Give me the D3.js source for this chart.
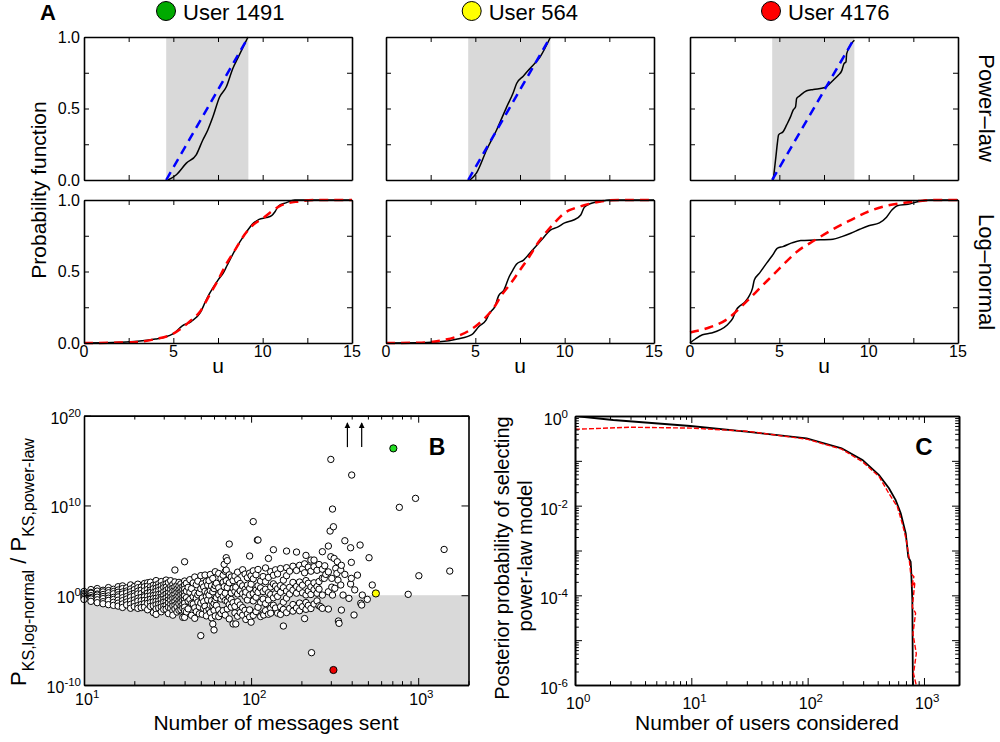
<!DOCTYPE html>
<html><head><meta charset="utf-8">
<script src="https://cdn.jsdelivr.net/npm/d3@7"></script>
<style>body{margin:0;background:#fff}svg text{font-family:"Liberation Sans",Arial,Helvetica,sans-serif;fill:#000}</style>
</head><body><svg id="c" width="1000" height="742"></svg>
<script>
// ---------------- DATA ----------------
const userNames = ["User 1491","User 564","User 4176"];
const userColors = ["#00aa00","#ffff00","#ff0000"];
const shadeStart = [4.6,4.6,4.6];
const shadeEnd = [9.2,9.2,9.2];
const uTicks = [0,5,10,15];
const pTicks = [0,0.5,1];
const rowLabels = ["Power\u2013law","Log\u2013normal"];

// power-law row: empirical (black) and fitted (blue dashed), [u, P]
const plEmp1491 = [[4.7,0],[5.17,0.037],[5.73,0.118],[6.28,0.176],[6.65,0.28],[6.93,0.35],[7.21,0.44],[7.59,0.58],[7.96,0.65],[8.33,0.78],[8.6,0.85],[9.18,1.0]];
const plEmp564 = [[4.7,0],[5.07,0.05],[5.63,0.21],[6.19,0.35],[6.75,0.51],[7.12,0.61],[7.31,0.675],[7.68,0.726],[8.06,0.78],[8.62,0.86],[9.21,1.0]];
const plEmp4176 = [[4.66,0],[4.81,0.165],[4.89,0.258],[4.96,0.316],[5.22,0.339],[5.41,0.385],[5.63,0.443],[5.78,0.49],[5.91,0.513],[5.97,0.571],[6.12,0.587],[6.53,0.624],[6.9,0.633],[7.55,0.647],[7.83,0.675],[8.02,0.698],[8.3,0.733],[8.49,0.763],[8.62,0.814],[8.73,0.826],[8.77,0.884],[9.2,0.977]];
const plFit1491 = [[4.6,0],[9.2,1]];
const plFit564 = [[4.6,0],[9.2,1]];
const plFit4176 = [[4.6,0],[9.2,0.99]];

// log-normal row: empirical (black) and fitted (red dashed), [u, P]
const lnEmp1491 = [[0,0],[2,0.005],[3,0.012],[4,0.028],[4.5,0.04],[5,0.065],[5.5,0.12],[6,0.15],[6.5,0.21],[6.8,0.29],[7,0.34],[7.5,0.44],[7.8,0.49],[8,0.54],[8.5,0.66],[9,0.76],[9.5,0.84],[9.8,0.865],[10.2,0.877],[10.5,0.89],[10.7,0.92],[10.9,0.96],[11.3,0.98],[11.8,1.0],[15,1.0]];
const lnFit1491 = [[0,0],[2,0.003],[3,0.007],[4,0.028],[5,0.065],[6,0.16],[6.5,0.22],[7,0.33],[7.5,0.44],[8,0.56],[8.5,0.66],[9,0.76],[9.5,0.83],[10,0.87],[10.5,0.92],[11,0.96],[12,0.99],[13,1.0],[15,1.0]];
const lnEmp564 = [[0,0],[2,0.002],[3,0.008],[4,0.028],[4.8,0.058],[5.2,0.116],[5.6,0.16],[5.8,0.21],[6.1,0.256],[6.3,0.33],[6.6,0.37],[6.9,0.465],[7.1,0.51],[7.3,0.55],[7.7,0.58],[8.2,0.65],[8.7,0.72],[9.2,0.79],[9.6,0.81],[10,0.84],[10.5,0.86],[10.9,0.895],[11.1,0.95],[11.5,0.977],[12,0.99],[12.5,1.0],[15,1.0]];
const lnFit564 = [[0,0],[2,0.002],[3,0.016],[4,0.047],[5,0.116],[5.5,0.17],[6,0.24],[6.5,0.34],[7,0.42],[7.5,0.51],[8,0.6],[8.5,0.7],[9,0.78],[9.5,0.85],[10,0.91],[10.5,0.94],[11,0.96],[12,0.99],[13,1.0],[15,1.0]];
const lnEmp4176 = [[0,0],[0.3,0.028],[0.7,0.058],[1.2,0.07],[1.7,0.093],[2.1,0.128],[2.4,0.174],[2.6,0.233],[2.8,0.26],[3.1,0.29],[3.3,0.326],[3.5,0.384],[3.6,0.44],[3.9,0.49],[4.3,0.56],[4.6,0.61],[4.9,0.663],[5.2,0.674],[5.7,0.7],[6.2,0.716],[7,0.72],[8,0.726],[8.5,0.744],[9,0.767],[9.5,0.795],[10,0.82],[10.6,0.84],[11,0.88],[11.3,0.93],[11.6,0.96],[12.2,0.97],[12.8,0.99],[13.5,1.0],[15,1.0]];
const lnFit4176 = [[0,0.074],[1,0.105],[2,0.16],[3,0.27],[4,0.395],[5,0.52],[6,0.64],[7,0.72],[8,0.795],[9,0.86],[10,0.92],[11,0.96],[12,0.98],[13,0.995],[14,1.0],[15,1.0]];

// Panel B: messages sent and log10 of the P_KS ratio, grouped by number of messages
const scatterColumns = [
[10,[0.42,0.18,0.05,-0.12,-0.3,-0.47]],[11,[0.63,0.31,0.22,-0.05,-0.26,-0.41,-0.68]],[12,[0.74,0.46,0.13,0.02,-0.22,-0.51,-0.83]],
[13,[0.55,0.37,0.08,-0.15,-0.38,-0.72,-0.95]],[14,[0.85,0.52,0.27,-0.07,-0.33,-0.58,-1.05]],[15,[0.66,0.41,0.16,-0.24,-0.47,-0.79,-1.13]],
[16,[0.95,0.58,0.33,0.04,-0.19,-0.55,-0.88,-1.21]],[17,[1.04,0.74,0.36,0.12,-0.28,-0.61,-0.97,-1.36]],[18,[0.81,0.47,0.25,-0.14,-0.43,-0.76,-1.08]],
[19,[1.15,0.69,0.38,0.06,-0.21,-0.64,-1.02,-1.45]],[20,[0.97,0.62,0.21,-0.09,-0.52,-0.86,-1.27]],[21,[1.23,0.83,0.45,0.14,-0.34,-0.66,-1.16,-1.46]],
[22,[0.92,0.57,0.18,-0.25,-0.61,-1.04,-1.38]],[23,[1.31,0.94,0.49,0.03,-0.17,-0.57,-0.93,-1.33]],[24,[1.39,1.02,0.64,0.24,-0.12,-0.54,-0.91,-1.62]],
[25,[1.45,0.96,0.58,0.31,-0.06,-0.45,-0.82,-1.25]],[26,[1.12,0.73,0.28,-0.03,-0.38,-0.74,-1.18,-1.93]],[27,[1.63,1.14,0.77,0.42,0.05,-0.33,-0.68,-1.07,-1.52,-2.13]],
[28,[1.28,0.91,0.53,0.09,-0.27,-0.63,-0.99,-1.42]],[29,[1.52,1.05,0.62,0.16,-0.23,-0.48,-0.94,-1.31,-1.84]],[30,[1.17,0.84,0.37,-0.04,-0.44,-0.77,-1.23,-1.58]],
[31,[1.69,1.27,0.88,0.54,0.13,-0.29,-0.72,-1.14,-1.55]],[32,[1.41,0.71,0.26,-0.13,-0.53,-0.87,-1.34,-2.04]],[33,[1.62,0.98,0.63,0.19,-0.24,-0.58,-1.03,-1.44]],
[34,[1.21,0.78,0.43,-0.02,-0.37,-0.84,-1.19,-1.73,-2.22]],[35,[2.81,1.48,0.93,0.47,0.08,-0.32,-0.69,-1.12,-1.53]],[36,[1.08,0.66,0.31,-0.16,-0.47,-0.93,-1.28,-1.87]],
[37,[1.43,1.02,0.57,0.23,-0.18,-0.63,-0.97,-1.68]],[38,[1.26,0.83,0.36,0.03,-0.42,-0.78,-1.24,-1.61]],[39,[0.97,0.62,0.17,-0.23,-0.57,-1.04,-1.43,-2.46]],
[40,[3.73,1.58,1.13,0.68,0.27,-0.07,-0.52,-0.88,-1.33,-1.76,-2.46]],
[41,[1.34,0.46,-0.27,-1.86]],[42,[0.88,-0.66,-1.52]],[43,[1.73,0.33,-0.47]],[44,[0.74,-0.93,-2.24]],
[45,[1.37,-0.16,-0.98]],[46,[2.03,0.24,-1.41,-2.57]],[47,[1.18,-0.36,-1.83]],[48,[1.57,0.04,-0.76]],
[49,[0.27,-1.29,-2.07]],[50,[2.18,0.72,-0.87,-4.5]],[51,[1.26,-0.31,-2.12]],[52,[0.92,-0.72,-1.47]],
[53,[2.25,0.44,-1.22]],[54,[1.53,-0.12,-1.77,-2.3]],[55,[1.13,0.29,-0.53]],[56,[1.62,0.02,-1.58]],
[57,[2.31,0.52,-1.12,-1.93]],[58,[1.04,-0.62,-2.52]],[59,[1.87,0.38,-1.18,-3.2]],[60,[0.74,-0.92,-1.68,-3.87]],
[61,[2.62,1.07,-0.48,-2.31]],[62,[1.33,-0.26,-1.14]],[64,[2.42,0.83,0.06,-1.63,-2.38]],[66,[1.86,0.37,-0.42,-2.03]],
[68,[2.23,1.44,-0.14,-1.72]],[69,[3.44,0.95]],[70,[2.66,0.23,-0.58,-2.21]],[71,[4.18,2.8,1.62]],[72,[3.85,0.86,-0.69,-1.52]],
[74,[5.7,2.27,1.38,-0.23,-1.04,-2.64]],[76,[2.03,0.26,-0.47,-1.33]],[78,[1.63,0.78,-0.83,-3.2]],
[80,[2.14,0.43,-1.24,-1.97]],[81,[0.9,-3.2]],[83,[2.57,1.73,0.14,-0.72,-2.34]],[86,[1.31,0.49,-1.08,-1.93]],
[89,[2.84,1.04,0.17,-1.38,-2.22]],[92,[2.36,0.66,-0.12,-1.68]],[93,[0.35,-2.7]],[95,[1.96,1.13,-0.53,-2.08]],
[98,[4.37,2.46,0.77,0.03,-1.63,-2.43]],[100,[2.17,1.24,-3.0]],[103,[8.2,2.72,1.83,0.18,-0.63,-2.24]],
[107,[2.28,0.58,-0.22,-1.82]],[109,[6.15]],[110,[6.15,2.87,1.07,0.32,-1.34]],[114,[1.58,0.82,-0.78,-2.37]],
[118,[2.08,0.41,-0.43,-2.04]],[119,[-2.2]],[122,[3.04,1.52,0.67,-0.93,-1.72]],[127,[4.1,1.98,0.28,-0.52,-2.12]],
[131,[2.62,0.92,0.07,-1.47,-2.0]],[136,[5.07,2.23,1.27,-0.28,-1.12]],[140,[2.83,1.02,0.18,-1.43]],
[144,[2.38,0.72,-0.13,-2.0]],[150,[2.97,1.08,0.33,-1.28,-2.13]],[156,[1.68,0.84,-0.77,-1.58,-3.43]],
[163,[4.92,3.07,2.18,0.47,-0.32,-1.93]],[170,[2.68,0.88,0.13,-1.47]],[178,[3.23,1.43,0.57,-1.04,-1.77]],
[187,[4.81,2.76,0.98,0.23,-1.42]],[195,[3.33,1.47,0.73,-0.87,-1.73]],[203,[2.93,1.12,0.27,-1.27]],
[209,[3.5,2.5,-2.6]],[213,[4.44,1.63,0.03,-0.82,-1.57]],[220,[3.13,1.33,0.48,-1.13]],[228,[3.92,2.68,0.93,0.08,-1.48]],
[230,[-6.4]],[238,[3.92,3.18,1.38,0.62,-0.98]],[248,[2.78,0.97,0.22,-0.63]],[255,[3.42,1.53,0.68,-1.18]],
[261,[-1.28]],[267,[4.85,2.9,1.9,0.02,-1.46]],[274,[1.88]],[276,[3.28]],[280,[2.32]],[290,[5.48,2.6,0.39,-1.54]],
[297,[7.15]],[300,[15.13,4.29]],[304,[1.88,0.9]],[307,[9.6,0.02]],[311,[7.63]],[314,[4.1]],[317,[0.77]],[321,[2.99]],
[326,[2.43]],[328,[3.73]],[331,[1.69]],[333,[-2.87]],[336,[-3.13]],[344,[2.8,1.14]],[347,[3.33,-1.65]],[355,[0.02]],
[364,[2.32,6.07]],[385,[-0.35]],[394,[5.29,1.25]],[398,[3.66,1.88]],[400,[13.39]],[413,[-2.2]],[417,[0.6]],[433,[2.24]],
[449,[5.59]],[453,[-0.9]],[459,[-1.09]],[463,[0.02]],[496,[-0.46]],[508,[4.18]],[531,[1.14]],[771,[9.79]],[871,[0.1]],
[964,[10.79]],[1009,[2.17]],[1429,[5.1]],[1545,[2.69]]
];
const highlightN = [710, 558, 311];
const highlightLog = [16.36, 0.2, -8.33];
const highlightColors = ["#22dd22","#ffff00","#ee0000"];
const arrowN = [377, 459];
const arrowLogFrom = 16.5, arrowLogTo = 19.2;
const bYTicks = [-10, 0, 10, 20];
const bXTicks = [1, 2, 3];

// Panel C: number of users considered vs posterior probability
const usersBlack = [1,2.13,9.8,29.6,98,196,296,411,500,571,631,697,733,768,776,794,804];
const postBlack = [1,0.815,0.598,0.447,0.316,0.19,0.105,0.048,0.0245,0.0133,0.0068,0.0024,0.00072,0.00056,0.00036,0.000079,0.0000005];
const usersRed = [1,3,10,30,100,196,296,411,500,590,651,705,743,768,819,783,836,794,847,804,859,813,875];
const postRed = [0.505,0.562,0.537,0.457,0.302,0.182,0.0955,0.0447,0.0186,0.0095,0.004,0.0017,0.00072,0.00031,0.00026,0.000155,0.0002,0.000055,0.00004,0.000014,0.000005,0.0000018,0.0000008];
const cYTicks = [0,-1,-2,-3,-4,-5,-6];
const cYLabels = [0,-2,-4,-6];
const cXTicks = [0,1,2,3];

// ---------------- DRAW ----------------
const svg = d3.select("#c");
const blk = "#000";

function frameAxes(g, x, y, opts){
  const [x0,x1] = x.range(), [y0,y1] = y.range();
  const ts = opts.tick || 5;
  const mk = (axis, tr, vals, size) => g.append("g").attr("transform", tr)
     .call(axis.tickValues(vals).tickSizeInner(-size).tickSizeOuter(0).tickFormat(""))
     .call(s=>{s.select(".domain").attr("stroke",blk).attr("stroke-width",1.6); s.selectAll(".tick line").attr("stroke",blk).attr("stroke-width",1);});
  [[()=>d3.axisBottom(x),`translate(0,${y0})`],[()=>d3.axisTop(x),`translate(0,${y1})`]].forEach(([a,t])=>{
    mk(a(),t,opts.xMajor,ts); if(opts.xMinor) mk(a(),t,opts.xMinor,ts*0.55);
  });
  [[()=>d3.axisLeft(y),`translate(${x0},0)`],[()=>d3.axisRight(y),`translate(${x1},0)`]].forEach(([a,t])=>{
    mk(a(),t,opts.yMajor,ts); if(opts.yMinor) mk(a(),t,opts.yMinor,ts*0.55);
  });
}

// ---- Panel A ----
const colX = [84,386,690], colW = 268;
const rowY = [37,200], rowH = 143;
const plEmp = [plEmp1491, plEmp564, plEmp4176];
const plFit = [plFit1491, plFit564, plFit4176];
const lnEmp = [lnEmp1491, lnEmp564, lnEmp4176];
const lnFit = [lnFit1491, lnFit564, lnFit4176];
const headerOffset = [82, 85.7, 81];

svg.append("text").attr("x",40).attr("y",20).attr("font-size",22).attr("font-weight","bold").text("A");

for (let i=0;i<3;i++){
  const x = d3.scaleLinear().domain([0,15]).range([colX[i], colX[i]+colW]);
  const hx = x(0) + headerOffset[i];
  svg.append("circle").attr("cx",hx).attr("cy",11).attr("r",9.5).attr("fill",userColors[i]).attr("stroke",blk).attr("stroke-width",1);
  svg.append("text").attr("x",hx+17).attr("y",20).attr("font-size",22).text(userNames[i]);
  for (let r=0;r<2;r++){
    const y = d3.scaleLinear().domain([0,1]).range([rowY[r]+rowH, rowY[r]]);
    const g = svg.append("g");
    if (r===0){
      g.append("rect").attr("x",x(shadeStart[i])).attr("y",y(1)).attr("width",x(shadeEnd[i])-x(shadeStart[i]))
        .attr("height",y(0)-y(1)).attr("fill","#d9d9d9");
    }
    const line = d3.line().x(d=>x(d[0])).y(d=>y(d[1])).curve(d3.curveMonotoneX);
    const emp = r===0?plEmp[i]:lnEmp[i], fit = r===0?plFit[i]:lnFit[i];
    g.append("path").attr("d",line(emp)).attr("fill","none").attr("stroke",blk).attr("stroke-width",1.5);
    g.append("path").attr("d",line(fit)).attr("fill","none").attr("stroke",r===0?"#0000ff":"#ff0000")
      .attr("stroke-width",2.5).attr("stroke-dasharray","9,6");
    frameAxes(g,x,y,{xMajor:d3.range(0,15.1,2.5), yMajor:d3.range(0,1.01,0.25), tick:5});
    if (i===0){
      pTicks.forEach(v=>g.append("text").attr("x",x(0)-4).attr("y",y(v)+5.5).attr("text-anchor","end")
        .attr("font-size",16).attr("fill","#222").text(d3.format(".1f")(v)));
    }
    if (r===1){
      uTicks.forEach(v=>g.append("text").attr("x",x(v)).attr("y",y(0)+14).attr("text-anchor","middle")
        .attr("font-size",16).attr("fill","#222").text(v));
      g.append("text").attr("x",x(7.5)).attr("y",373).attr("text-anchor","middle").attr("font-size",21).text("u");
    }
  }
}
svg.append("text").attr("transform","translate(46,190) rotate(-90)").attr("text-anchor","middle").attr("font-size",21).text("Probability function");
rowLabels.forEach((t,r)=>{
  svg.append("text").attr("transform",`translate(979,${r===0?108:272}) rotate(90)`).attr("text-anchor","middle").attr("font-size",22).text(t);
});

// ---- helpers for log axes ----
function minorVals(lo, hi){
  const out=[]; for(let k=lo;k<hi;k++) for(let m=2;m<=9;m++) out.push(m*Math.pow(10,k)); return out;
}
function supLabel(g, xpos, ypos, exp, anchor){
  const t = g.append("text").attr("x",xpos).attr("y",ypos).attr("text-anchor",anchor).attr("font-size",16).attr("fill","#222");
  t.append("tspan").text("10");
  t.append("tspan").attr("dy",-7).attr("font-size",11.5).text(String(exp));
  return t;
}

// ---- Panel B ----
{
  const x = d3.scaleLog().domain([10,2000]).range([84,468.5]);
  const y = d3.scaleLog().domain([1e-10,1e20]).range([685,415.7]);
  const g = svg.append("g");
  g.append("rect").attr("x",x(10)).attr("y",y(1)).attr("width",x(2000)-x(10)).attr("height",y(1e-10)-y(1)).attr("fill","#d9d9d9");
  const pts = [];
  scatterColumns.forEach(([n,es])=>es.forEach(e=>pts.push([n,e])));
  g.selectAll("circle.p").data(pts).join("circle").attr("class","p")
    .attr("cx",d=>x(d[0])).attr("cy",d=>y(Math.pow(10,d[1]))).attr("r",3.2)
    .attr("fill","#fff").attr("stroke",blk).attr("stroke-width",1);
  highlightN.forEach((n,i)=>g.append("circle").attr("cx",x(n)).attr("cy",y(Math.pow(10,highlightLog[i]))).attr("r",3.6)
    .attr("fill",highlightColors[i]).attr("stroke",blk).attr("stroke-width",1));
  svg.append("defs").append("marker").attr("id","ah").attr("viewBox","0 0 10 10").attr("refX",9).attr("refY",5)
    .attr("markerWidth",5).attr("markerHeight",6).attr("orient","auto")
    .append("path").attr("d","M0,0 L10,5 L0,10 z").attr("fill",blk);
  arrowN.forEach(n=>g.append("line").attr("x1",x(n)).attr("x2",x(n)).attr("y1",y(Math.pow(10,arrowLogFrom))).attr("y2",y(Math.pow(10,arrowLogTo)))
    .attr("stroke",blk).attr("stroke-width",1.2).attr("marker-end","url(#ah)"));
  frameAxes(g,x,y,{xMajor:[10,100,1000], xMinor:minorVals(1,4).filter(v=>v<=2000), yMajor:bYTicks.map(e=>Math.pow(10,e)), tick:7});
  bXTicks.forEach(e=>supLabel(g, x(Math.pow(10,e))-8.9, 705, e, "start"));
  bYTicks.forEach(e=>supLabel(g, 81, y(Math.pow(10,e))+8, e, "end"));
  g.append("text").attr("x",437).attr("y",455).attr("text-anchor","middle").attr("font-size",23).attr("font-weight","bold").text("B");
  g.append("text").attr("x",276).attr("y",730).attr("text-anchor","middle").attr("font-size",21).text("Number of messages sent");
  const yl = g.append("text").attr("transform","translate(26,562) rotate(-90)").attr("text-anchor","middle").attr("font-size",22);
  yl.append("tspan").text("P");
  yl.append("tspan").attr("font-size",16).attr("dy",8).text("KS,log-normal");
  yl.append("tspan").attr("dy",-8).text(" / P");
  yl.append("tspan").attr("font-size",16).attr("dy",8).text("KS,power-law");
}

// ---- Panel C ----
{
  const x = d3.scaleLog().domain([1,2000]).range([575,959]);
  const y = d3.scaleLog().domain([1e-6,1]).range([685,416]);
  const g = svg.append("g");
  g.append("clipPath").attr("id","clipC").append("rect").attr("x",575).attr("y",416).attr("width",384).attr("height",269);
  const gl = g.append("g").attr("clip-path","url(#clipC)");
  const lineB = d3.line().x((d,i)=>x(usersBlack[i])).y((d,i)=>y(postBlack[i]));
  const lineR = d3.line().x((d,i)=>x(usersRed[i])).y((d,i)=>y(postRed[i]));
  gl.append("path").attr("d",lineB(usersBlack)).attr("fill","none").attr("stroke",blk).attr("stroke-width",1.8);
  gl.append("path").attr("d",lineR(usersRed)).attr("fill","none").attr("stroke","#ff0000").attr("stroke-width",1.4).attr("stroke-dasharray","5,2");
  frameAxes(g,x,y,{xMajor:cXTicks.map(e=>Math.pow(10,e)), xMinor:minorVals(0,4).filter(v=>v<=2000),
    yMajor:cYTicks.map(e=>Math.pow(10,e)), yMinor:minorVals(-6,0), tick:7});
  cXTicks.forEach(e=>supLabel(g, x(Math.pow(10,e))-8.9, 709, e, "start"));
  cYLabels.forEach(e=>supLabel(g, 568, y(Math.pow(10,e))+9, e, "end"));
  g.append("text").attr("x",924).attr("y",455).attr("text-anchor","middle").attr("font-size",24).attr("font-weight","bold").text("C");
  g.append("text").attr("x",767).attr("y",730).attr("text-anchor","middle").attr("font-size",21).text("Number of users considered");
  g.append("text").attr("transform","translate(509,558) rotate(-90)").attr("text-anchor","middle").attr("font-size",20).text("Posterior probability of selecting");
  g.append("text").attr("transform","translate(532,556) rotate(-90)").attr("text-anchor","middle").attr("font-size",20).text("power-law model");
}
</script></body></html>
